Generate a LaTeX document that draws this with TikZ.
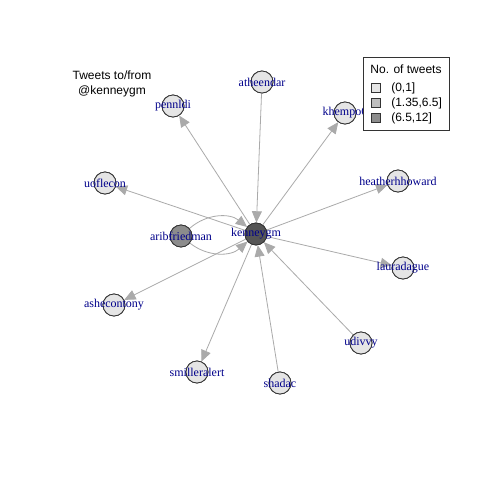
\documentclass[tikz,border=0pt]{standalone}
\usepackage{fontspec}
\setmainfont{Liberation Serif}
\newfontfamily\legfont{Liberation Sans}
\usetikzlibrary{arrows.meta}
\definecolor{lblblue}{RGB}{0,0,139}
\definecolor{edgegray}{RGB}{170,170,170}
\definecolor{lightfill}{RGB}{229,229,229}
\definecolor{midfill}{RGB}{190,190,190}
\definecolor{darkfill}{RGB}{140,140,140}
\definecolor{hubfill}{RGB}{85,85,85}
\tikzset{
  vtx/.style={circle,draw=black!80,line width=0.6pt,fill=lightfill,minimum size=16.5pt,inner sep=0pt},
  lbl/.style={text=lblblue,font=\fontsize{9}{10}\selectfont,inner sep=0pt},
  edge/.style={draw=edgegray,line width=0.6pt,-{Triangle[length=8.5pt,width=7.5pt]}},
  legsq/.style={draw=black!80,line width=0.5pt,minimum size=6.5pt,inner sep=0pt},
  legtxt/.style={font=\legfont\fontsize{9}{10}\selectfont,anchor=west,inner sep=0pt}
}
\begin{document}
\begin{tikzpicture}[x=0.75pt,y=-0.75pt]
\useasboundingbox[fill=white] (0,0) rectangle (480,480);
% vertices (circles)
\node[vtx,fill=hubfill] (k) at (256,234) {};
\node[vtx,fill=darkfill] (ar) at (181,236) {};
\node[vtx] (pe) at (173,106) {};
\node[vtx] (at) at (262,82) {};
\node[vtx] (kh) at (345,113) {};
\node[vtx] (uo) at (105,183) {};
\node[vtx] (he) at (398,181) {};
\node[vtx] (la) at (403,268) {};
\node[vtx] (as) at (114,305) {};
\node[vtx] (sm) at (197,372) {};
\node[vtx] (sh) at (280,383) {};
\node[vtx] (ud) at (361,343) {};
% edges
\draw[edge] (k) -- (pe);
\draw[edge] (at) -- (k);
\draw[edge] (k) -- (kh);
\draw[edge] (k) -- (uo);
\draw[edge] (k) -- (he);
\draw[edge] (k) -- (la);
\draw[edge] (k) -- (as);
\draw[edge] (k) -- (sm);
\draw[edge] (sh) -- (k);
\draw[edge] (ud) -- (k);
\draw[edge] (ar) to[bend left=40] (k);
\draw[edge] (ar) to[bend right=40] (k);
% redraw circles over edges
\foreach \n/\f in {k/hubfill,ar/darkfill,pe/lightfill,at/lightfill,kh/lightfill,uo/lightfill,he/lightfill,la/lightfill,as/lightfill,sm/lightfill,sh/lightfill,ud/lightfill}
  \node[vtx,fill=\f] at (\n) {};
% labels
\node[lbl] (tk) at (k) {kenneygm};
\node[lbl] (tar) at (ar) {aribfriedman};
\node[lbl] (tpe) at (pe) {pennldi};
\node[lbl] (tat) at (at) {atheendar};
\node[lbl] (tkh) at (kh) {khempo6};
\node[lbl] (tuo) at (uo) {uoflecon};
\node[lbl] (the) at (he) {heatherhhoward};
\node[lbl] (tla) at (la) {lauradague};
\node[lbl] (tas) at (as) {ashecontony};
\node[lbl] (tsm) at (sm) {smilleralert};
\node[lbl] (tsh) at (sh) {shadac};
\node[lbl] (tud) at (ud) {udivvy};
% title
\node[font=\legfont\fontsize{9}{10}\selectfont,align=center,inner sep=0pt] (title) at (112,84) {Tweets to/from\\[1.5pt]@kenneygm};
% legend
\draw[fill=white,draw=black!80,line width=0.5pt] (363,57) rectangle (449,130);
\node[font=\legfont\fontsize{9}{10}\selectfont,inner sep=0pt] (lt) at (406,69) {No. of tweets};
\node[legsq,fill=lightfill] (s1) at (376,88) {};
\node[legsq,fill=midfill] (s2) at (376,103) {};
\node[legsq,fill=darkfill] (s3) at (376,118) {};
\node[legtxt] (l1) at (391,88) {(0,1]};
\node[legtxt] (l2) at (391,103) {(1.35,6.5]};
\node[legtxt] (l3) at (391,118) {(6.5,12]};
\end{tikzpicture}
\end{document}
